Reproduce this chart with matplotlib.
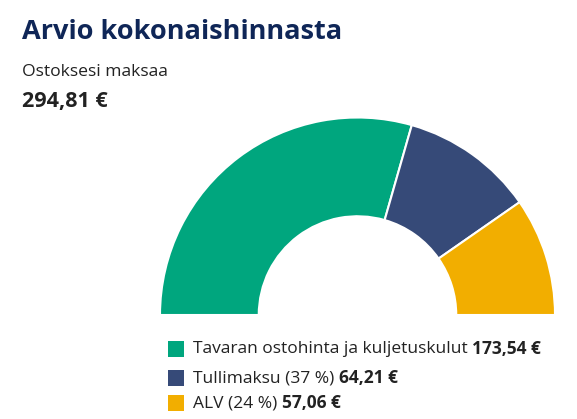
import matplotlib
matplotlib.use("Agg")
import matplotlib.pyplot as plt
from matplotlib.patches import Rectangle

labels = ["Tavaran ostohinta ja kuljetuskulut", "Tullimaksu (37 %)", "ALV (24 %)"]
values = [173.54, 64.21, 57.06]
value_labels = ["173,54 €", "64,21 €", "57,06 €"]
colors = ["#00a67e", "#364a78", "#f2ae00"]
total_label = "294,81 €"

W, H = 577, 419
fig = plt.figure(figsize=(W/100, H/100), dpi=100)
plt.rcParams['font.family'] = ['Open Sans', 'DejaVu Sans']

def fx(x): return x / W
def fy(y): return 1 - y / H

fig.text(fx(22), fy(32), "Arvio kokonaishinnasta", fontsize=19.5, fontweight='bold',
         color="#0f2657", va='center', ha='left')
fig.text(fx(22), fy(72), "Ostoksesi maksaa", fontsize=12.6, color="#222222", va='center')
fig.text(fx(22), fy(101), total_label, fontsize=15.5, fontweight='bold', color="#222222", va='center')

cx, cy, R = 357.5, 315, 197.5
ax = fig.add_axes([fx(cx - R), fy(cy), 2*R/W, R/H])
total = sum(values)
wedges, _ = ax.pie(values + [total], colors=colors + ["none"], startangle=180,
                   counterclock=False, radius=1,
                   wedgeprops=dict(width=0.5, edgecolor='white', linewidth=1.5))
wedges[-1].set_visible(False)
ax.set_xlim(-1, 1)
ax.set_ylim(0, 1)
ax.set_aspect('auto')
ax.axis('off')

ys = [349, 378, 403]
for lab, val, c, y in zip(labels, value_labels, colors, ys):
    fig.patches.append(Rectangle((fx(168), fy(y + 8)), 16/W, 16/H, transform=fig.transFigure,
                                 facecolor=c, edgecolor='none'))
    t = fig.text(fx(193), fy(y), lab + " ", fontsize=12.5, color="#222222", va='center')
    fig.canvas.draw()
    bb = t.get_window_extent()
    fig.text(bb.x1 / W, fy(y), val, fontsize=12.5, fontweight='bold', color="#222222", va='center')

fig.savefig("out.png", dpi=100)
